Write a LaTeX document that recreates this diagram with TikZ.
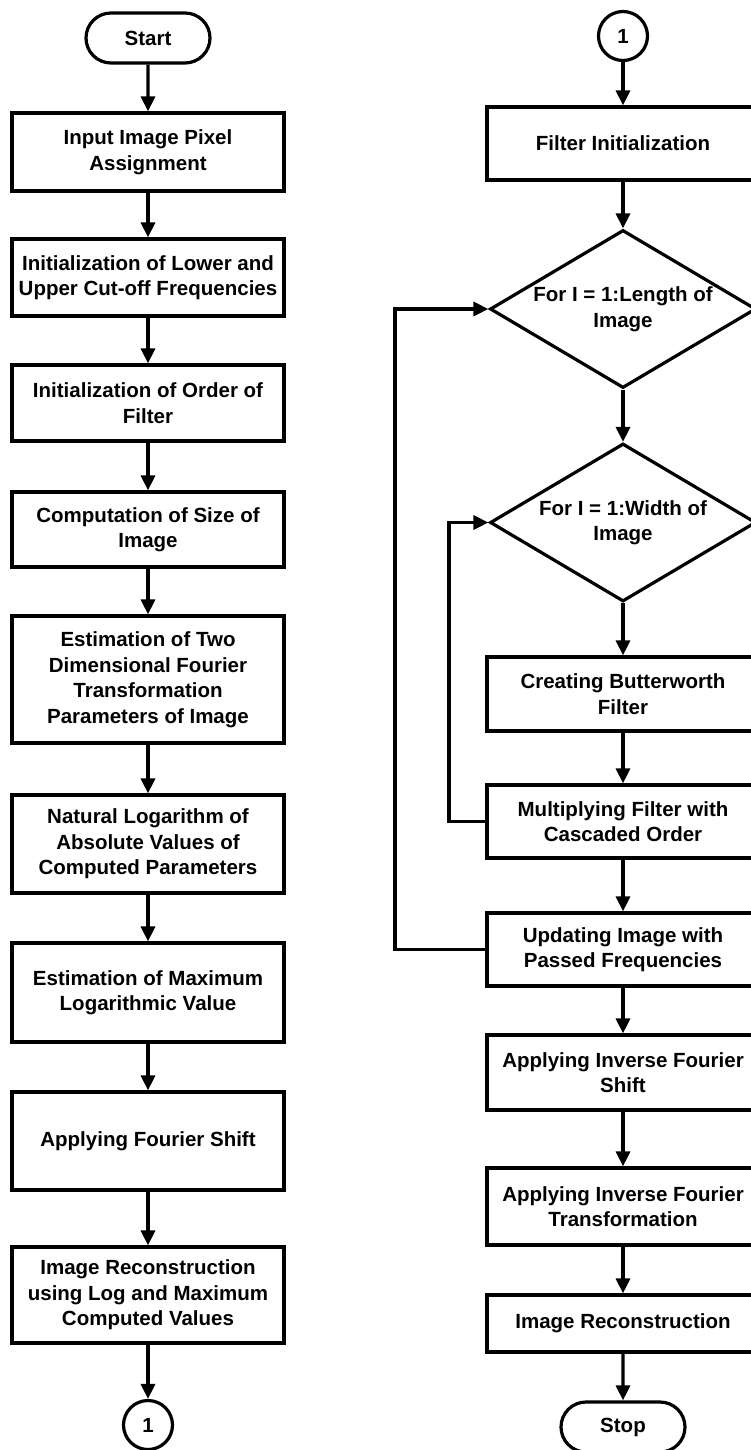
\documentclass[tikz,border=0pt]{standalone}
\usepackage{fontspec}
\setmainfont{Liberation Sans}
\usetikzlibrary{shapes.geometric,shapes.misc,arrows.meta}
\begin{document}
\begin{tikzpicture}[x=1pt,y=-1pt,
  every node/.style={font=\fontsize{20.5}{25.5}\selectfont\bfseries, align=center, line width=3.2pt, draw=black},
  procbox/.style={rectangle, minimum width=272pt, inner sep=0pt},
  term/.style={rounded rectangle, minimum width=124pt, minimum height=50pt, inner sep=0pt},
  conn/.style={circle, minimum size=49pt, inner sep=0pt},
  decide/.style={diamond, minimum width=266pt, minimum height=158pt, inner sep=0pt},
  plain/.style={draw=none, inner sep=0pt},
  flow/.style={line width=3.2pt, -{Triangle[length=15pt,width=14pt]}},
  loopline/.style={line width=3.2pt, -{Triangle[length=15pt,width=14pt]}}
]
\useasboundingbox (0,0) rectangle (750,1450);
% left column
\node[term] (start) at (148,38) {Start};
\node[procbox, minimum height=78pt] (b1) at (148,152) {Input Image Pixel\\Assignment};
\node[procbox, minimum height=77pt] (b2) at (148,277.5) {Initialization of Lower and\\Upper Cut-off Frequencies};
\node[procbox, minimum height=76pt] (b3) at (148,403) {Initialization of Order of\\Filter};
\node[procbox, minimum height=75pt] (b4) at (148,529.5) {Computation of Size of\\Image};
\node[procbox, minimum height=127pt] (b5) at (148,679.5) {Estimation of Two\\Dimensional Fourier\\Transformation\\Parameters of Image};
\node[procbox, minimum height=98pt] (b6) at (148,844) {Natural Logarithm of\\Absolute Values of\\Computed Parameters};
\node[procbox, minimum height=99pt] (b7) at (148,992.5) {Estimation of Maximum\\Logarithmic Value};
\node[procbox, minimum height=98pt] (b8) at (148,1141) {Applying Fourier Shift};
\node[procbox, minimum height=96pt] (b9) at (148,1295) {Image Reconstruction\\using Log and Maximum\\Computed Values};
\node[conn] (c1) at (148,1425) {1};
% right column
\node[conn] (c2) at (623,36) {1};
\node[procbox, minimum height=73pt] (r1) at (623,143.5) {Filter Initialization};
\node[decide] (d1) at (623,309) {};
\node[plain] (d1t) at (d1.center) {For I = 1:Length of\\Image};
\node[decide] (d2) at (623,522.5) {};
\node[plain] (d2t) at (d2.center) {For I = 1:Width of\\Image};
\node[procbox, minimum height=74pt] (r2) at (623,694) {Creating Butterworth\\Filter};
\node[procbox, minimum height=73pt] (r3) at (623,821.5) {Multiplying Filter with\\Cascaded Order};
\node[procbox, minimum height=73pt] (r4) at (623,949.5) {Updating Image with\\Passed Frequencies};
\node[procbox, minimum height=75pt] (r5) at (623,1072.5) {Applying Inverse Fourier\\Shift};
\node[procbox, minimum height=77pt] (r6) at (623,1206.5) {Applying Inverse Fourier\\Transformation};
\node[procbox, minimum height=57pt] (r7) at (623,1323.5) {Image Reconstruction};
\node[term] (stop) at (623,1427) {Stop};
% left connectors
\draw[flow] (start) -- (b1);
\draw[flow] (b1) -- (b2);
\draw[flow] (b2) -- (b3);
\draw[flow] (b3) -- (b4);
\draw[flow] (b4) -- (b5);
\draw[flow] (b5) -- (b6);
\draw[flow] (b6) -- (b7);
\draw[flow] (b7) -- (b8);
\draw[flow] (b8) -- (b9);
\draw[flow] (b9) -- (c1);
% right connectors
\draw[flow] (c2) -- (r1);
\draw[flow] (r1) -- (d1.north);
\draw[flow] (d1.south) -- (d2.north);
\draw[flow] (d2.south) -- (r2);
\draw[flow] (r2) -- (r3);
\draw[flow] (r3) -- (r4);
\draw[flow] (r4) -- (r5);
\draw[flow] (r5) -- (r6);
\draw[flow] (r6) -- (r7);
\draw[flow] (r7) -- (stop);
% loops
\coordinate (o1) at (395,949.5);
\coordinate (o2) at (395,309);
\draw[loopline] (r4.west) -- (o1) -- (o2) -- (d1.west);
\coordinate (i1) at (449,821.5);
\coordinate (i2) at (449,522.5);
\draw[loopline] (r3.west) -- (i1) -- (i2) -- (d2.west);
\end{tikzpicture}
\end{document}
